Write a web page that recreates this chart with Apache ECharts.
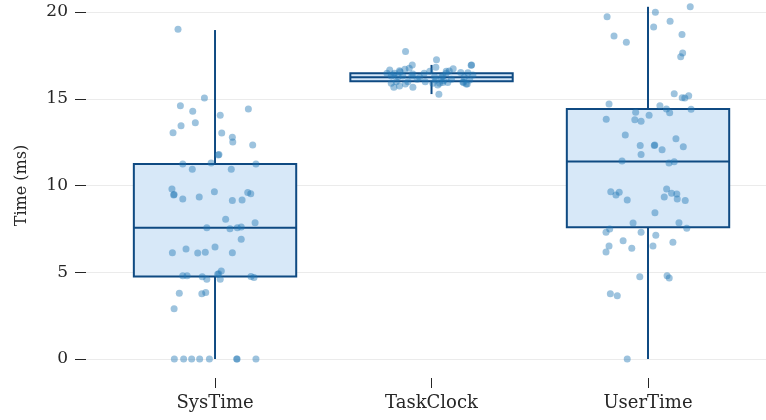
<!DOCTYPE html>
<html>
<head>
<meta charset="utf-8">
<script src="https://cdn.jsdelivr.net/npm/echarts@6/dist/echarts.min.js"></script>
<style>html,body{margin:0;padding:0;background:#fff;}#c{width:766px;height:420px;}</style>
</head>
<body>
<div id="c"></div>
<script>
const categories = ['SysTime', 'TaskClock', 'UserTime'];
const tickValues = [0, 5, 10, 15, 20];
const boxMin = [0, 15.27, 0];
const boxQ1 = [4.75, 16.01, 7.59];
const boxMedian = [7.57, 16.24, 11.39];
const boxQ3 = [11.24, 16.47, 14.41];
const boxMax = [18.96, 16.95, 20.3];

const sysJitter = [-0.171,-0.049,-0.160,0.154,-0.103,0.024,-0.091,-0.157,-0.194,0.031,0.080,0.082,0.174,0.015,0.018,-0.149,-0.018,0.189,-0.105,0.075,-0.199,-0.191,-0.189,-0.003,-0.073,-0.149,0.151,0.165,0.080,0.125,0.049,0.185,-0.038,0.069,0.103,0.121,0.121,-0.134,0.000,-0.197,-0.080,-0.045,0.080,-0.149,-0.129,-0.059,-0.038,0.012,0.017,0.029,0.024,0.166,0.180,-0.165,-0.061,-0.043,-0.189,-0.188,-0.145,-0.108,-0.071,-0.026,0.100,0.102,0.189];
const sysValues = [19.0,15.04,14.6,14.41,14.28,14.05,13.62,13.45,13.04,13.03,12.78,12.51,12.33,11.76,11.78,11.24,11.3,11.24,10.93,10.93,9.8,9.45,9.48,9.64,9.34,9.22,9.59,9.53,9.13,9.16,8.05,7.86,7.57,7.51,7.57,7.61,6.9,6.34,6.46,6.13,6.11,6.15,6.13,4.8,4.8,4.74,4.59,4.88,4.92,5.07,4.59,4.76,4.7,3.79,3.76,3.84,2.9,0,0,0,0,0,0,0,0];

const taskJitter = [-0.120,0.023,-0.089,0.185,0.020,-0.193,-0.103,-0.123,-0.145,0.100,0.082,0.068,0.135,0.168,0.191,-0.034,-0.008,-0.176,-0.154,-0.091,0.046,0.151,-0.186,-0.174,-0.148,-0.121,-0.086,-0.029,0.020,0.037,0.055,0.092,0.148,0.165,0.034,-0.066,0.068,0.052,0.014,-0.186,-0.133,-0.055,-0.163,-0.109,0.145,0.052,0.006,-0.086,-0.206,0.176,0.075,0.029,0.160,-0.171,0.183,-0.148];
const taskValues = [17.73,17.25,16.95,16.95,16.81,16.66,16.76,16.7,16.56,16.73,16.6,16.58,16.52,16.5,16.37,16.47,16.58,16.37,16.27,16.31,16.24,16.24,15.89,15.66,15.73,15.85,15.66,15.98,16.08,15.89,16.04,16.12,15.93,15.85,15.26,16.12,16.47,16.31,16.27,16.31,16.31,16.24,15.98,15.98,15.97,15.93,15.89,16.43,16.47,16.08,15.93,15.79,15.85,16.47,16.93,16.62];

const userJitter = [0.195,-0.189,0.034,0.102,0.026,-0.157,0.157,-0.100,0.160,0.151,0.121,0.158,0.170,0.188,-0.180,0.055,0.085,0.100,0.199,-0.057,-0.193,-0.061,-0.032,0.005,-0.105,0.129,-0.036,0.029,0.031,0.065,0.163,-0.032,-0.120,0.097,0.121,-0.172,-0.148,-0.133,-0.096,0.086,0.109,0.133,0.075,0.135,0.172,0.032,-0.069,0.143,-0.177,-0.194,-0.032,0.179,0.036,-0.115,0.115,-0.180,0.023,-0.075,-0.194,-0.038,0.088,0.098,-0.174,-0.142,-0.096];
const userValues = [20.3,19.73,19.98,19.46,19.14,18.62,18.71,18.25,17.64,17.42,15.29,15.06,15.04,15.18,14.7,14.6,14.41,14.2,14.39,14.22,13.82,13.79,13.7,14.05,12.91,12.7,12.3,12.3,12.33,12.06,12.24,11.78,11.41,11.3,11.37,9.64,9.45,9.61,9.16,9.8,9.55,9.51,9.34,9.22,9.13,8.43,7.84,7.86,7.49,7.3,7.3,7.53,7.13,6.82,6.73,6.51,6.51,6.38,6.17,4.74,4.8,4.67,3.76,3.65,0];

const FONT = 'DejaVu Serif';
const TEXT = '#262626';
const STROKE = '#0f4a82';
const FILL = '#d7e8f8';
const DOT = 'rgba(31,119,180,0.55)';
const BOXW = 0.75;

function pts(idx, jit, vals) {
  return vals.map((v, i) => [idx + jit[i], v]);
}

const boxData = categories.map((c, i) => [i, boxMin[i], boxQ1[i], boxMedian[i], boxQ3[i], boxMax[i]]);

const chart = echarts.init(document.getElementById('c'), null, {renderer: 'canvas'});
chart.setOption({
  animation: false,
  backgroundColor: '#fff',
  grid: {left: 86, right: 0, top: 12, bottom: 61, containLabel: false, outerBoundsMode: 'none'},
  xAxis: {
    type: 'value', min: -0.596, max: 2.545, offset: 19,
    axisLine: {show: false, onZero: false},
    splitLine: {show: false},
    axisTick: {show: true, customValues: [0, 1, 2], length: 10, lineStyle: {color: TEXT, width: 1}},
    axisLabel: {customValues: [0, 1, 2], formatter: v => categories[Math.round(v)], margin: 16,
      fontFamily: FONT, fontSize: 18, color: TEXT}
  },
  yAxis: {
    type: 'value', min: 0, max: 20, interval: 5,
    name: 'Time (ms)', nameLocation: 'middle', nameRotate: 90, nameGap: 56,
    nameTextStyle: {fontFamily: FONT, fontSize: 16, color: TEXT},
    axisLine: {show: false, onZero: false},
    axisTick: {show: true, length: 11, lineStyle: {color: TEXT, width: 1}},
    splitLine: {show: true, lineStyle: {color: '#ebebeb', width: 1}},
    axisLabel: {margin: 18, fontFamily: FONT, fontSize: 17, color: TEXT,
      formatter: v => tickValues.includes(v) ? String(v) : ''}
  },
  series: [
    {
      type: 'custom', clip: false, z: 2,
      data: boxData,
      renderItem: function (params, api) {
        const x = api.value(0);
        const mn = api.coord([x, api.value(1)]);
        const q1 = api.coord([x, api.value(2)]);
        const md = api.coord([x, api.value(3)]);
        const q3 = api.coord([x, api.value(4)]);
        const mx = api.coord([x, api.value(5)]);
        const l = api.coord([x - BOXW / 2, api.value(4)])[0];
        const r = api.coord([x + BOXW / 2, api.value(4)])[0];
        const ls = {stroke: STROKE, lineWidth: 2};
        return {type: 'group', children: [
          {type: 'line', shape: {x1: mx[0], y1: mx[1], x2: q3[0], y2: q3[1]}, style: ls},
          {type: 'line', shape: {x1: q1[0], y1: q1[1], x2: mn[0], y2: mn[1]}, style: ls},
          {type: 'rect', shape: {x: l, y: q3[1], width: r - l, height: q1[1] - q3[1]}, style: {fill: FILL, stroke: STROKE, lineWidth: 2}},
          {type: 'line', shape: {x1: l, y1: md[1], x2: r, y2: md[1]}, style: ls}
        ]};
      }
    },
    {type: 'scatter', clip: false, z: 3, symbolSize: 7, data: pts(0, sysJitter, sysValues), itemStyle: {color: DOT}},
    {type: 'scatter', clip: false, z: 3, symbolSize: 7, data: pts(1, taskJitter, taskValues), itemStyle: {color: DOT}},
    {type: 'scatter', clip: false, z: 3, symbolSize: 7, data: pts(2, userJitter, userValues), itemStyle: {color: DOT}}
  ]
});
</script>
</body>
</html>
